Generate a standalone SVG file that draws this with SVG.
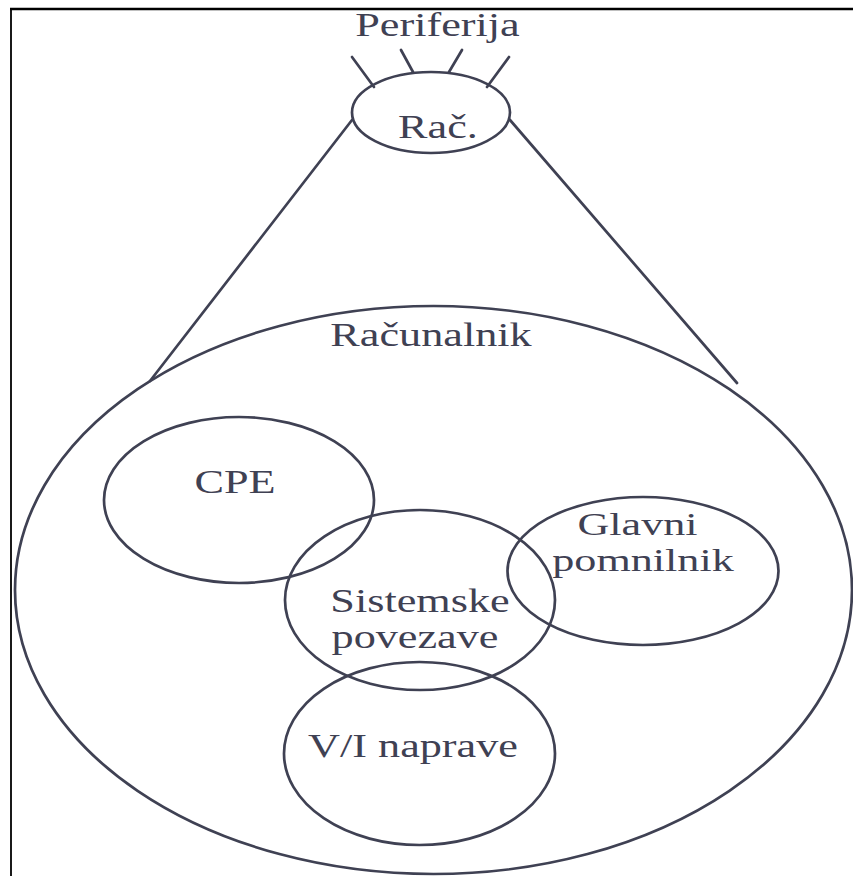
<svg xmlns="http://www.w3.org/2000/svg" width="853" height="876" viewBox="0 0 853 876">
  <style>
    .frame { fill: none; stroke: #000; }
    .shape { fill: none; stroke: #3f4153; stroke-width: 2.7; }
    .edge { fill: none; stroke: #3f4153; stroke-width: 2.7; stroke-linecap: round; }
    .lbl { font-family: "Liberation Serif", "Times New Roman", serif; font-size: 33px; fill: #3f4153; text-anchor: middle; }
    .lbl.two { font-size: 32px; }
  </style>
  <rect width="853" height="876" fill="#fff"/>

  <!-- page frame: top and left edges -->
  <path class="frame" stroke-width="2.6" d="M10 9 H853"/>
  <path class="frame" stroke-width="1.8" d="M11 9 V876"/>

  <g id="connectors">
    <!-- peripheral stubs on the small computer -->
    <line class="edge" x1="352" y1="57" x2="374" y2="87"/>
    <line class="edge" x1="401" y1="50" x2="413" y2="72"/>
    <line class="edge" x1="462" y1="50" x2="449" y2="72"/>
    <line class="edge" x1="509" y1="57" x2="487" y2="87"/>
    <!-- zoom-out funnel from small computer to the detailed view -->
    <line class="edge" x1="352" y1="120" x2="150" y2="381"/>
    <line class="edge" x1="510" y1="120" x2="737" y2="383"/>
  </g>

  <g id="periferija">
    <text class="lbl" transform="translate(437.5 36) scale(1.34 1)">Periferija</text>
  </g>

  <g id="rac">
    <ellipse class="shape" cx="431" cy="112.5" rx="79" ry="40.5"/>
    <text class="lbl" transform="translate(438 138) scale(1.34 1)">Rač.</text>
  </g>

  <g id="racunalnik">
    <ellipse class="shape" cx="433.5" cy="590" rx="418.5" ry="284"/>
    <text class="lbl" transform="translate(431 346) scale(1.34 1)">Računalnik</text>
  </g>

  <g id="cpe">
    <ellipse class="shape" cx="239" cy="500" rx="135" ry="83"/>
    <text class="lbl" transform="translate(235 493) scale(1.34 1)">CPE</text>
  </g>

  <g id="sistemske-povezave">
    <ellipse class="shape" cx="420" cy="600" rx="135" ry="90"/>
    <text class="lbl" transform="translate(420 612) scale(1.34 1)">Sistemske</text>
    <text class="lbl" transform="translate(415 648) scale(1.34 1)">povezave</text>
  </g>

  <g id="glavni-pomnilnik">
    <ellipse class="shape" cx="643" cy="571" rx="135.5" ry="74"/>
    <text class="lbl two" transform="translate(637.5 535) scale(1.38 1)">Glavni</text>
    <text class="lbl two" transform="translate(643 571) scale(1.38 1)">pomnilnik</text>
  </g>

  <g id="vi-naprave">
    <ellipse class="shape" cx="419.5" cy="753.5" rx="135.5" ry="91.5"/>
    <text class="lbl" transform="translate(413 757) scale(1.34 1)">V/I naprave</text>
  </g>
</svg>
